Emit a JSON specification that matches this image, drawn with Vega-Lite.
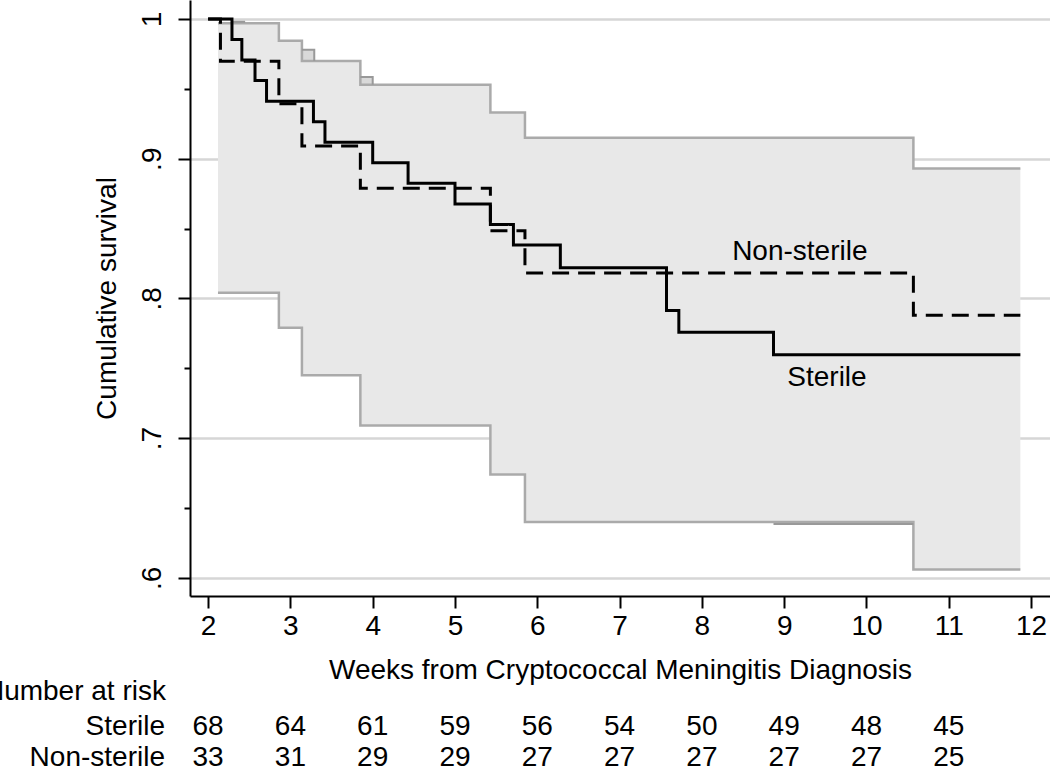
{
  "$schema": "https://vega.github.io/schema/vega-lite/v6.json",
  "width": 860,
  "height": 596,
  "autosize": {"type": "none"},
  "padding": {"left": 190, "top": 0, "right": 0, "bottom": 171},
  "background": "white",
  "config": {"view": {"stroke": null}, "font": "Liberation Sans"},
  "datasets": {
    "km": [
      {"group": "Sterile", "week": 2.0, "surv": 1.0},
      {"group": "Sterile", "week": 2.29, "surv": 0.9853},
      {"group": "Sterile", "week": 2.41, "surv": 0.9706},
      {"group": "Sterile", "week": 2.57, "surv": 0.9559},
      {"group": "Sterile", "week": 2.71, "surv": 0.9412},
      {"group": "Sterile", "week": 3.28, "surv": 0.9265},
      {"group": "Sterile", "week": 3.42, "surv": 0.9118},
      {"group": "Sterile", "week": 4.0, "surv": 0.8971},
      {"group": "Sterile", "week": 4.43, "surv": 0.8824},
      {"group": "Sterile", "week": 5.0, "surv": 0.8676},
      {"group": "Sterile", "week": 5.43, "surv": 0.8529},
      {"group": "Sterile", "week": 5.71, "surv": 0.8382},
      {"group": "Sterile", "week": 6.28, "surv": 0.822},
      {"group": "Sterile", "week": 7.57, "surv": 0.7914},
      {"group": "Sterile", "week": 7.72, "surv": 0.7757},
      {"group": "Sterile", "week": 8.87, "surv": 0.7597},
      {"group": "Sterile", "week": 11.87, "surv": 0.7597},
      {"group": "Non-sterile", "week": 2.0, "surv": 1.0},
      {"group": "Non-sterile", "week": 2.15, "surv": 0.9697},
      {"group": "Non-sterile", "week": 2.86, "surv": 0.9394},
      {"group": "Non-sterile", "week": 3.14, "surv": 0.9091},
      {"group": "Non-sterile", "week": 3.85, "surv": 0.8788},
      {"group": "Non-sterile", "week": 5.43, "surv": 0.8485},
      {"group": "Non-sterile", "week": 5.85, "surv": 0.8182},
      {"group": "Non-sterile", "week": 10.57, "surv": 0.7879},
      {"group": "Non-sterile", "week": 11.87, "surv": 0.7879}
    ],
    "ci": [
      {"week": 2.12, "lo": 0.804, "hi": 0.997},
      {"week": 2.86, "lo": 0.779, "hi": 0.9845},
      {"week": 3.14, "lo": 0.745, "hi": 0.970},
      {"week": 3.85, "lo": 0.709, "hi": 0.953},
      {"week": 5.43, "lo": 0.674, "hi": 0.933},
      {"week": 5.85, "lo": 0.640, "hi": 0.915},
      {"week": 10.57, "lo": 0.606, "hi": 0.893},
      {"week": 11.87, "lo": 0.606, "hi": 0.893}
    ],
    "ci2": [
      {"seg": "a", "i": 1, "week": 2.30, "v": 0.998},
      {"seg": "a", "i": 2, "week": 2.45, "v": 0.998},
      {"seg": "b", "i": 1, "week": 3.14, "v": 0.978},
      {"seg": "b", "i": 2, "week": 3.29, "v": 0.978},
      {"seg": "b", "i": 3, "week": 3.29, "v": 0.970},
      {"seg": "c", "i": 1, "week": 3.85, "v": 0.9585},
      {"seg": "c", "i": 2, "week": 4.0, "v": 0.9585},
      {"seg": "c", "i": 3, "week": 4.0, "v": 0.953},
      {"seg": "d", "i": 1, "week": 8.87, "v": 0.6385},
      {"seg": "d", "i": 2, "week": 10.57, "v": 0.6385}
    ],
    "ci2box": [
      {"w1": 3.14, "w2": 3.29, "v1": 0.970, "v2": 0.978},
      {"w1": 3.85, "w2": 4.0, "v1": 0.953, "v2": 0.9585}
    ],
    "risk": [
      {"group": "Sterile", "week": 2, "n": 68},
      {"group": "Sterile", "week": 3, "n": 64},
      {"group": "Sterile", "week": 4, "n": 61},
      {"group": "Sterile", "week": 5, "n": 59},
      {"group": "Sterile", "week": 6, "n": 56},
      {"group": "Sterile", "week": 7, "n": 54},
      {"group": "Sterile", "week": 8, "n": 50},
      {"group": "Sterile", "week": 9, "n": 49},
      {"group": "Sterile", "week": 10, "n": 48},
      {"group": "Sterile", "week": 11, "n": 45},
      {"group": "Non-sterile", "week": 2, "n": 33},
      {"group": "Non-sterile", "week": 3, "n": 31},
      {"group": "Non-sterile", "week": 4, "n": 29},
      {"group": "Non-sterile", "week": 5, "n": 29},
      {"group": "Non-sterile", "week": 6, "n": 27},
      {"group": "Non-sterile", "week": 7, "n": 27},
      {"group": "Non-sterile", "week": 8, "n": 27},
      {"group": "Non-sterile", "week": 9, "n": 27},
      {"group": "Non-sterile", "week": 10, "n": 27},
      {"group": "Non-sterile", "week": 11, "n": 25}
    ]
  },
  "layer": [
    {
      "data": {"name": "ci"},
      "mark": {"type": "area", "interpolate": "step-after", "color": "#e8e8e8", "opacity": 1},
      "encoding": {
        "x": {
          "field": "week", "type": "quantitative",
          "scale": {"domain": [1.78, 12.23], "nice": false, "zero": false},
          "axis": {
            "values": [2, 3, 4, 5, 6, 7, 8, 9, 10, 11, 12],
            "format": "d",
            "title": "Weeks from Cryptococcal Meningitis Diagnosis",
            "titleFontSize": 28, "titleFontWeight": "normal", "titleColor": "black", "titleFont": "Liberation Sans",
            "titlePadding": 16,
            "labelFontSize": 28, "labelColor": "black", "labelFont": "Liberation Sans", "labelPadding": 4,
            "labelFlush": false, "labelOverlap": false,
            "tickSize": 12, "tickWidth": 2, "tickColor": "black",
            "domainColor": "black", "domainWidth": 2,
            "grid": false
          }
        },
        "y": {
          "field": "hi", "type": "quantitative",
          "scale": {"domain": [0.587, 1.0136], "nice": false, "zero": false},
          "axis": {
            "values": [0.6, 0.65, 0.7, 0.75, 0.8, 0.85, 0.9, 0.95, 1.0],
            "title": "Cumulative survival",
            "titleFontSize": 28, "titleFontWeight": "normal", "titleColor": "black", "titleFont": "Liberation Sans",
            "titlePadding": 17,
            "labelExpr": "abs(datum.value*10 - round(datum.value*10)) < 0.001 ? (datum.value > 0.999 ? '1' : '.' + round(datum.value*10)) : ''",
            "labelAngle": -90, "labelAlign": "center", "labelBaseline": "alphabetic",
            "labelFontSize": 28, "labelColor": "black", "labelFont": "Liberation Sans", "labelPadding": 18,
            "labelOverlap": false, "labelFlush": false,
            "tickSize": {"condition": {"test": "abs(datum.value*10 - round(datum.value*10)) < 0.001", "value": 12}, "value": 6},
            "tickWidth": 2, "tickColor": "black",
            "domainColor": "black", "domainWidth": 2,
            "grid": true,
            "gridColor": {"condition": {"test": "abs(datum.value*10 - round(datum.value*10)) < 0.001", "value": "#d6d6d6"}, "value": "rgba(255,255,255,0)"},
            "gridWidth": 2.5
          }
        },
        "y2": {"field": "lo"}
      }
    },
    {
      "data": {"name": "ci2box"},
      "mark": {"type": "rect", "color": "#d9d9d9", "opacity": 1},
      "encoding": {
        "x": {"field": "w1", "type": "quantitative"},
        "x2": {"field": "w2"},
        "y": {"field": "v1", "type": "quantitative"},
        "y2": {"field": "v2"}
      }
    },
    {
      "data": {"name": "ci"},
      "mark": {"type": "line", "interpolate": "step-after", "color": "#aaaaaa", "strokeWidth": 2.5},
      "encoding": {
        "x": {"field": "week", "type": "quantitative"},
        "y": {"field": "hi", "type": "quantitative"}
      }
    },
    {
      "data": {"name": "ci"},
      "mark": {"type": "line", "interpolate": "step-after", "color": "#aaaaaa", "strokeWidth": 2.5},
      "encoding": {
        "x": {"field": "week", "type": "quantitative"},
        "y": {"field": "lo", "type": "quantitative"}
      }
    },
    {
      "data": {"name": "ci2"},
      "mark": {"type": "line", "interpolate": "linear", "color": "#999999", "strokeWidth": 2},
      "encoding": {
        "x": {"field": "week", "type": "quantitative"},
        "y": {"field": "v", "type": "quantitative"},
        "detail": {"field": "seg", "type": "nominal"},
        "order": {"field": "i", "type": "quantitative"}
      }
    },
    {
      "data": {"name": "km"},
      "mark": {"type": "line", "interpolate": "step-after", "color": "black", "strokeWidth": 3},
      "encoding": {
        "x": {"field": "week", "type": "quantitative"},
        "y": {"field": "surv", "type": "quantitative"},
        "strokeDash": {
          "field": "group", "type": "nominal",
          "scale": {"domain": ["Sterile", "Non-sterile"], "range": [[1, 0], [17, 9]]},
          "legend": null
        }
      }
    },
    {
      "data": {"values": [{"label": "Non-sterile"}]},
      "mark": {"type": "text", "fontSize": 28, "color": "black", "align": "center", "baseline": "alphabetic", "font": "Liberation Sans"},
      "encoding": {"x": {"datum": 9.19}, "y": {"datum": 0.8276}, "text": {"field": "label"}}
    },
    {
      "data": {"values": [{"label": "Sterile"}]},
      "mark": {"type": "text", "fontSize": 28, "color": "black", "align": "center", "baseline": "alphabetic", "font": "Liberation Sans"},
      "encoding": {"x": {"datum": 9.52}, "y": {"datum": 0.7375}, "text": {"field": "label"}}
    },
    {
      "data": {"values": [{"label": "Number at risk"}]},
      "mark": {"type": "text", "fontSize": 28, "color": "black", "align": "right", "baseline": "alphabetic", "font": "Liberation Sans"},
      "encoding": {"x": {"datum": 1.488}, "y": {"datum": 0.5129}, "text": {"field": "label"}}
    },
    {
      "data": {"values": [{"label": "Sterile"}]},
      "mark": {"type": "text", "fontSize": 28, "color": "black", "align": "right", "baseline": "alphabetic", "font": "Liberation Sans"},
      "encoding": {"x": {"datum": 1.476}, "y": {"datum": 0.4878}, "text": {"field": "label"}}
    },
    {
      "data": {"values": [{"label": "Non-sterile"}]},
      "mark": {"type": "text", "fontSize": 28, "color": "black", "align": "right", "baseline": "alphabetic", "font": "Liberation Sans"},
      "encoding": {"x": {"datum": 1.476}, "y": {"datum": 0.465}, "text": {"field": "label"}}
    },
    {
      "data": {"name": "risk"},
      "transform": [{"filter": "datum.group === 'Sterile'"}],
      "mark": {"type": "text", "fontSize": 28, "color": "black", "align": "center", "baseline": "alphabetic", "font": "Liberation Sans"},
      "encoding": {"x": {"field": "week", "type": "quantitative"}, "y": {"datum": 0.4878}, "text": {"field": "n", "type": "quantitative"}}
    },
    {
      "data": {"name": "risk"},
      "transform": [{"filter": "datum.group === 'Non-sterile'"}],
      "mark": {"type": "text", "fontSize": 28, "color": "black", "align": "center", "baseline": "alphabetic", "font": "Liberation Sans"},
      "encoding": {"x": {"field": "week", "type": "quantitative"}, "y": {"datum": 0.465}, "text": {"field": "n", "type": "quantitative"}}
    }
  ]
}
